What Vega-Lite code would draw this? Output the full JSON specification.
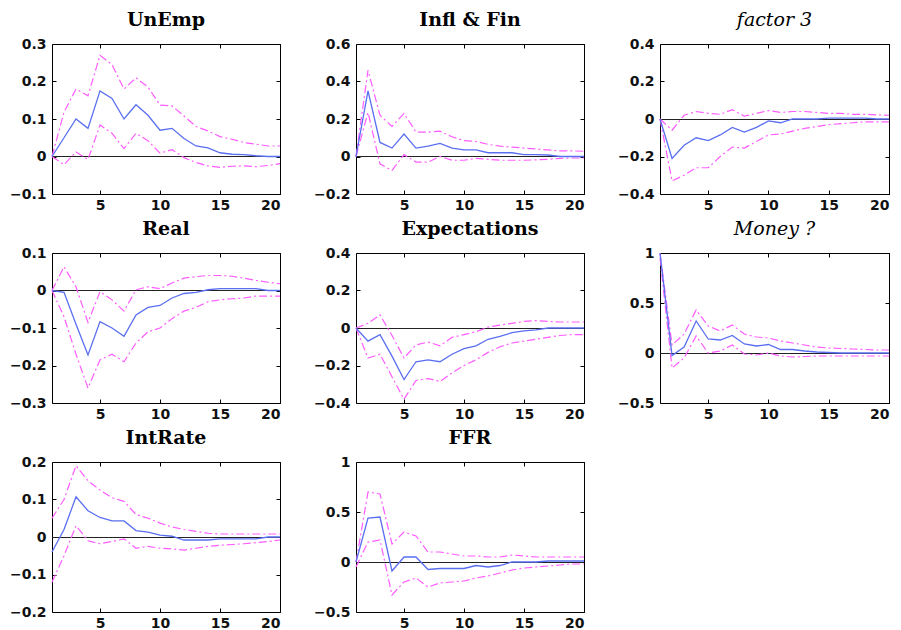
{
  "$schema": "https://vega.github.io/schema/vega-lite/v6.json",
  "padding": {"left": 8, "top": 10, "right": 2, "bottom": 5},
  "background": "white",
  "config": {
    "view": {"stroke": "black", "strokeWidth": 1},
    "axis": {"labelFont": "DejaVu Sans", "labelFontSize": 14, "labelFontWeight": "bold", "labelColor": "#111", "grid": false, "domain": false, "title": null, "tickColor": "black", "format": "~g"},
    "title": {"font": "DejaVu Serif", "fontSize": 19, "fontWeight": "bold", "color": "black", "anchor": "middle", "offset": 7},
    "concat": {"spacing": {"row": 6, "column": 28}}
  },
  "datasets": {
    "irf": [
      {"p":"UnEmp","h":1,"m":0,"lo":0,"hi":0},
      {"p":"UnEmp","h":2,"m":0.05,"lo":-0.022,"hi":0.118},
      {"p":"UnEmp","h":3,"m":0.1,"lo":0.012,"hi":0.18},
      {"p":"UnEmp","h":4,"m":0.075,"lo":-0.008,"hi":0.162},
      {"p":"UnEmp","h":5,"m":0.175,"lo":0.084,"hi":0.27},
      {"p":"UnEmp","h":6,"m":0.155,"lo":0.062,"hi":0.245},
      {"p":"UnEmp","h":7,"m":0.1,"lo":0.021,"hi":0.18},
      {"p":"UnEmp","h":8,"m":0.138,"lo":0.062,"hi":0.21},
      {"p":"UnEmp","h":9,"m":0.11,"lo":0.042,"hi":0.185},
      {"p":"UnEmp","h":10,"m":0.07,"lo":0.009,"hi":0.137},
      {"p":"UnEmp","h":11,"m":0.075,"lo":0.018,"hi":0.135},
      {"p":"UnEmp","h":12,"m":0.048,"lo":-0.003,"hi":0.108},
      {"p":"UnEmp","h":13,"m":0.028,"lo":-0.016,"hi":0.08},
      {"p":"UnEmp","h":14,"m":0.023,"lo":-0.025,"hi":0.068},
      {"p":"UnEmp","h":15,"m":0.01,"lo":-0.029,"hi":0.053},
      {"p":"UnEmp","h":16,"m":0.006,"lo":-0.026,"hi":0.046},
      {"p":"UnEmp","h":17,"m":0.005,"lo":-0.025,"hi":0.037},
      {"p":"UnEmp","h":18,"m":0.002,"lo":-0.027,"hi":0.033},
      {"p":"UnEmp","h":19,"m":0,"lo":-0.024,"hi":0.028},
      {"p":"UnEmp","h":20,"m":0,"lo":-0.019,"hi":0.028},

      {"p":"Infl","h":1,"m":0,"lo":0,"hi":0},
      {"p":"Infl","h":2,"m":0.35,"lo":0.235,"hi":0.46},
      {"p":"Infl","h":3,"m":0.075,"lo":-0.04,"hi":0.22},
      {"p":"Infl","h":4,"m":0.045,"lo":-0.075,"hi":0.16},
      {"p":"Infl","h":5,"m":0.12,"lo":0.01,"hi":0.23},
      {"p":"Infl","h":6,"m":0.045,"lo":-0.03,"hi":0.13},
      {"p":"Infl","h":7,"m":0.055,"lo":-0.03,"hi":0.13},
      {"p":"Infl","h":8,"m":0.07,"lo":0,"hi":0.135},
      {"p":"Infl","h":9,"m":0.045,"lo":-0.02,"hi":0.105},
      {"p":"Infl","h":10,"m":0.035,"lo":-0.02,"hi":0.085},
      {"p":"Infl","h":11,"m":0.035,"lo":-0.01,"hi":0.08},
      {"p":"Infl","h":12,"m":0.02,"lo":-0.015,"hi":0.065},
      {"p":"Infl","h":13,"m":0.02,"lo":-0.02,"hi":0.055},
      {"p":"Infl","h":14,"m":0.02,"lo":-0.02,"hi":0.05},
      {"p":"Infl","h":15,"m":0.01,"lo":-0.02,"hi":0.045},
      {"p":"Infl","h":16,"m":0.01,"lo":-0.018,"hi":0.04},
      {"p":"Infl","h":17,"m":0.008,"lo":-0.015,"hi":0.035},
      {"p":"Infl","h":18,"m":0,"lo":-0.01,"hi":0.03},
      {"p":"Infl","h":19,"m":0,"lo":-0.008,"hi":0.03},
      {"p":"Infl","h":20,"m":0,"lo":-0.008,"hi":0.028},

      {"p":"F3","h":1,"m":0,"lo":0,"hi":0},
      {"p":"F3","h":2,"m":-0.21,"lo":-0.33,"hi":-0.06},
      {"p":"F3","h":3,"m":-0.14,"lo":-0.3,"hi":0.02},
      {"p":"F3","h":4,"m":-0.1,"lo":-0.26,"hi":0.04},
      {"p":"F3","h":5,"m":-0.115,"lo":-0.26,"hi":0.03},
      {"p":"F3","h":6,"m":-0.085,"lo":-0.2,"hi":0.025},
      {"p":"F3","h":7,"m":-0.045,"lo":-0.15,"hi":0.05},
      {"p":"F3","h":8,"m":-0.07,"lo":-0.155,"hi":0.015},
      {"p":"F3","h":9,"m":-0.045,"lo":-0.12,"hi":0.03},
      {"p":"F3","h":10,"m":-0.01,"lo":-0.085,"hi":0.045},
      {"p":"F3","h":11,"m":-0.02,"lo":-0.08,"hi":0.035},
      {"p":"F3","h":12,"m":0,"lo":-0.065,"hi":0.04},
      {"p":"F3","h":13,"m":0,"lo":-0.05,"hi":0.04},
      {"p":"F3","h":14,"m":0,"lo":-0.04,"hi":0.035},
      {"p":"F3","h":15,"m":0.005,"lo":-0.03,"hi":0.03},
      {"p":"F3","h":16,"m":0.005,"lo":-0.025,"hi":0.03},
      {"p":"F3","h":17,"m":0.005,"lo":-0.02,"hi":0.025},
      {"p":"F3","h":18,"m":0.005,"lo":-0.015,"hi":0.025},
      {"p":"F3","h":19,"m":0,"lo":-0.015,"hi":0.022},
      {"p":"F3","h":20,"m":0,"lo":-0.015,"hi":0.02},

      {"p":"Real","h":1,"m":0,"lo":0,"hi":0},
      {"p":"Real","h":2,"m":-0.005,"lo":-0.07,"hi":0.063},
      {"p":"Real","h":3,"m":-0.09,"lo":-0.17,"hi":0.01},
      {"p":"Real","h":4,"m":-0.172,"lo":-0.26,"hi":-0.085},
      {"p":"Real","h":5,"m":-0.083,"lo":-0.185,"hi":-0.003},
      {"p":"Real","h":6,"m":-0.1,"lo":-0.17,"hi":-0.025},
      {"p":"Real","h":7,"m":-0.122,"lo":-0.19,"hi":-0.055},
      {"p":"Real","h":8,"m":-0.065,"lo":-0.14,"hi":0.002},
      {"p":"Real","h":9,"m":-0.045,"lo":-0.11,"hi":0.01},
      {"p":"Real","h":10,"m":-0.04,"lo":-0.1,"hi":0.005},
      {"p":"Real","h":11,"m":-0.02,"lo":-0.075,"hi":0.02},
      {"p":"Real","h":12,"m":-0.008,"lo":-0.055,"hi":0.033},
      {"p":"Real","h":13,"m":-0.005,"lo":-0.045,"hi":0.037},
      {"p":"Real","h":14,"m":0.002,"lo":-0.03,"hi":0.04},
      {"p":"Real","h":15,"m":0.005,"lo":-0.025,"hi":0.04},
      {"p":"Real","h":16,"m":0.005,"lo":-0.022,"hi":0.038},
      {"p":"Real","h":17,"m":0.005,"lo":-0.02,"hi":0.033},
      {"p":"Real","h":18,"m":0.005,"lo":-0.015,"hi":0.027},
      {"p":"Real","h":19,"m":0,"lo":-0.015,"hi":0.022},
      {"p":"Real","h":20,"m":0,"lo":-0.015,"hi":0.018},

      {"p":"Exp","h":1,"m":0,"lo":0,"hi":0},
      {"p":"Exp","h":2,"m":-0.07,"lo":-0.16,"hi":0.025},
      {"p":"Exp","h":3,"m":-0.035,"lo":-0.14,"hi":0.07},
      {"p":"Exp","h":4,"m":-0.15,"lo":-0.26,"hi":-0.04},
      {"p":"Exp","h":5,"m":-0.275,"lo":-0.38,"hi":-0.16},
      {"p":"Exp","h":6,"m":-0.18,"lo":-0.28,"hi":-0.09},
      {"p":"Exp","h":7,"m":-0.17,"lo":-0.27,"hi":-0.075},
      {"p":"Exp","h":8,"m":-0.18,"lo":-0.285,"hi":-0.095},
      {"p":"Exp","h":9,"m":-0.14,"lo":-0.24,"hi":-0.05},
      {"p":"Exp","h":10,"m":-0.11,"lo":-0.2,"hi":-0.035},
      {"p":"Exp","h":11,"m":-0.095,"lo":-0.17,"hi":-0.02},
      {"p":"Exp","h":12,"m":-0.06,"lo":-0.13,"hi":0.005},
      {"p":"Exp","h":13,"m":-0.045,"lo":-0.1,"hi":0.015},
      {"p":"Exp","h":14,"m":-0.025,"lo":-0.08,"hi":0.025},
      {"p":"Exp","h":15,"m":-0.015,"lo":-0.07,"hi":0.035},
      {"p":"Exp","h":16,"m":-0.01,"lo":-0.06,"hi":0.04},
      {"p":"Exp","h":17,"m":0,"lo":-0.05,"hi":0.035},
      {"p":"Exp","h":18,"m":0,"lo":-0.04,"hi":0.032},
      {"p":"Exp","h":19,"m":0,"lo":-0.035,"hi":0.032},
      {"p":"Exp","h":20,"m":0,"lo":-0.035,"hi":0.032},

      {"p":"Money","h":1,"m":1,"lo":0.95,"hi":1},
      {"p":"Money","h":2,"m":-0.025,"lo":-0.15,"hi":0.08},
      {"p":"Money","h":3,"m":0.06,"lo":-0.05,"hi":0.19},
      {"p":"Money","h":4,"m":0.32,"lo":0.17,"hi":0.43},
      {"p":"Money","h":5,"m":0.14,"lo":0,"hi":0.27},
      {"p":"Money","h":6,"m":0.13,"lo":0.02,"hi":0.22},
      {"p":"Money","h":7,"m":0.175,"lo":0.08,"hi":0.28},
      {"p":"Money","h":8,"m":0.09,"lo":-0.01,"hi":0.19},
      {"p":"Money","h":9,"m":0.07,"lo":-0.02,"hi":0.16},
      {"p":"Money","h":10,"m":0.085,"lo":0,"hi":0.15},
      {"p":"Money","h":11,"m":0.035,"lo":-0.03,"hi":0.12},
      {"p":"Money","h":12,"m":0.035,"lo":-0.04,"hi":0.1},
      {"p":"Money","h":13,"m":0.02,"lo":-0.035,"hi":0.08},
      {"p":"Money","h":14,"m":0.01,"lo":-0.03,"hi":0.06},
      {"p":"Money","h":15,"m":0.005,"lo":-0.03,"hi":0.05},
      {"p":"Money","h":16,"m":0,"lo":-0.03,"hi":0.045},
      {"p":"Money","h":17,"m":0,"lo":-0.03,"hi":0.04},
      {"p":"Money","h":18,"m":0,"lo":-0.03,"hi":0.035},
      {"p":"Money","h":19,"m":0,"lo":-0.03,"hi":0.03},
      {"p":"Money","h":20,"m":0,"lo":-0.03,"hi":0.03},

      {"p":"Int","h":1,"m":-0.04,"lo":-0.12,"hi":0.05},
      {"p":"Int","h":2,"m":0.02,"lo":-0.05,"hi":0.1},
      {"p":"Int","h":3,"m":0.107,"lo":0.03,"hi":0.19},
      {"p":"Int","h":4,"m":0.07,"lo":-0.01,"hi":0.15},
      {"p":"Int","h":5,"m":0.052,"lo":-0.018,"hi":0.125},
      {"p":"Int","h":6,"m":0.043,"lo":-0.012,"hi":0.105},
      {"p":"Int","h":7,"m":0.043,"lo":-0.005,"hi":0.095},
      {"p":"Int","h":8,"m":0.017,"lo":-0.03,"hi":0.06},
      {"p":"Int","h":9,"m":0.013,"lo":-0.025,"hi":0.05},
      {"p":"Int","h":10,"m":0.005,"lo":-0.03,"hi":0.037},
      {"p":"Int","h":11,"m":0.002,"lo":-0.032,"hi":0.027},
      {"p":"Int","h":12,"m":-0.008,"lo":-0.035,"hi":0.02},
      {"p":"Int","h":13,"m":-0.008,"lo":-0.03,"hi":0.015},
      {"p":"Int","h":14,"m":-0.008,"lo":-0.025,"hi":0.01},
      {"p":"Int","h":15,"m":-0.005,"lo":-0.022,"hi":0.008},
      {"p":"Int","h":16,"m":-0.005,"lo":-0.02,"hi":0.008},
      {"p":"Int","h":17,"m":-0.005,"lo":-0.018,"hi":0.008},
      {"p":"Int","h":18,"m":-0.005,"lo":-0.015,"hi":0.008},
      {"p":"Int","h":19,"m":0,"lo":-0.012,"hi":0.008},
      {"p":"Int","h":20,"m":0,"lo":-0.008,"hi":0.008},

      {"p":"FFR","h":1,"m":0,"lo":-0.05,"hi":0},
      {"p":"FFR","h":2,"m":0.44,"lo":0.2,"hi":0.7},
      {"p":"FFR","h":3,"m":0.45,"lo":0.22,"hi":0.68},
      {"p":"FFR","h":4,"m":-0.09,"lo":-0.33,"hi":0.18},
      {"p":"FFR","h":5,"m":0.05,"lo":-0.2,"hi":0.3},
      {"p":"FFR","h":6,"m":0.05,"lo":-0.16,"hi":0.26},
      {"p":"FFR","h":7,"m":-0.075,"lo":-0.25,"hi":0.1},
      {"p":"FFR","h":8,"m":-0.065,"lo":-0.21,"hi":0.1},
      {"p":"FFR","h":9,"m":-0.065,"lo":-0.2,"hi":0.08},
      {"p":"FFR","h":10,"m":-0.065,"lo":-0.19,"hi":0.06},
      {"p":"FFR","h":11,"m":-0.035,"lo":-0.16,"hi":0.06},
      {"p":"FFR","h":12,"m":-0.05,"lo":-0.14,"hi":0.05},
      {"p":"FFR","h":13,"m":-0.035,"lo":-0.11,"hi":0.05},
      {"p":"FFR","h":14,"m":0,"lo":-0.08,"hi":0.07},
      {"p":"FFR","h":15,"m":0,"lo":-0.06,"hi":0.06},
      {"p":"FFR","h":16,"m":0,"lo":-0.05,"hi":0.05},
      {"p":"FFR","h":17,"m":0.01,"lo":-0.04,"hi":0.05},
      {"p":"FFR","h":18,"m":0.01,"lo":-0.03,"hi":0.05},
      {"p":"FFR","h":19,"m":0.01,"lo":-0.02,"hi":0.05},
      {"p":"FFR","h":20,"m":0.01,"lo":-0.02,"hi":0.05}
    ]
  },
  "data": {"name": "irf"},
  "columns": 3,
  "concat": [
    {
      "title": {"text": "UnEmp"},
      "width": 228, "height": 150,
      "transform": [{"filter": "datum.p === 'UnEmp'"}],
      "layer": [
        {"mark": {"type": "rule", "color": "#222", "strokeWidth": 0.8}, "encoding": {"y": {"datum": 0, "type": "quantitative", "axis": null}}},
        {"mark": {"type": "line", "color": "#ff5cff", "strokeWidth": 1.2, "strokeDash": [8, 3, 2, 3]},
         "encoding": {"x": {"field": "h", "type": "quantitative", "scale": {"domain": [1, 20], "nice": false, "zero": false}, "axis": {"orient": "bottom", "values": [5, 10, 15, 20], "ticks": false, "labelPadding": 4}},
                      "y": {"field": "hi", "type": "quantitative", "scale": {"domain": [-0.1, 0.3], "nice": false, "zero": false}, "axis": {"orient": "left", "values": [-0.1, 0, 0.1, 0.2, 0.3], "ticks": false, "labelPadding": 6}}}},
        {"mark": {"type": "line", "color": "#ff5cff", "strokeWidth": 1.2, "strokeDash": [8, 3, 2, 3]},
         "encoding": {"x": {"field": "h", "type": "quantitative", "axis": {"orient": "bottom", "values": [5, 10, 15, 20], "labels": false, "tickSize": 4, "offset": -4}},
                      "y": {"field": "lo", "type": "quantitative", "axis": {"orient": "left", "values": [-0.1, 0, 0.1, 0.2, 0.3], "labels": false, "tickSize": 4, "offset": -4}}}},
        {"mark": {"type": "line", "color": "#5a6ff0", "strokeWidth": 1.3},
         "encoding": {"x": {"field": "h", "type": "quantitative", "axis": {"orient": "top", "values": [5, 10, 15, 20], "labels": false, "tickSize": 4, "offset": -4}},
                      "y": {"field": "m", "type": "quantitative", "axis": {"orient": "right", "values": [-0.1, 0, 0.1, 0.2, 0.3], "labels": false, "tickSize": 4, "offset": -4}}}}
      ],
      "resolve": {"axis": {"x": "independent", "y": "independent"}}
    },
    {
      "title": {"text": "Infl & Fin"},
      "width": 228, "height": 150,
      "transform": [{"filter": "datum.p === 'Infl'"}],
      "layer": [
        {"mark": {"type": "rule", "color": "#222", "strokeWidth": 0.8}, "encoding": {"y": {"datum": 0, "type": "quantitative", "axis": null}}},
        {"mark": {"type": "line", "color": "#ff5cff", "strokeWidth": 1.2, "strokeDash": [8, 3, 2, 3]},
         "encoding": {"x": {"field": "h", "type": "quantitative", "scale": {"domain": [1, 20], "nice": false, "zero": false}, "axis": {"orient": "bottom", "values": [5, 10, 15, 20], "ticks": false, "labelPadding": 4}},
                      "y": {"field": "hi", "type": "quantitative", "scale": {"domain": [-0.2, 0.6], "nice": false, "zero": false}, "axis": {"orient": "left", "values": [-0.2, 0, 0.2, 0.4, 0.6], "ticks": false, "labelPadding": 6}}}},
        {"mark": {"type": "line", "color": "#ff5cff", "strokeWidth": 1.2, "strokeDash": [8, 3, 2, 3]},
         "encoding": {"x": {"field": "h", "type": "quantitative", "axis": {"orient": "bottom", "values": [5, 10, 15, 20], "labels": false, "tickSize": 4, "offset": -4}},
                      "y": {"field": "lo", "type": "quantitative", "axis": {"orient": "left", "values": [-0.2, 0, 0.2, 0.4, 0.6], "labels": false, "tickSize": 4, "offset": -4}}}},
        {"mark": {"type": "line", "color": "#5a6ff0", "strokeWidth": 1.3},
         "encoding": {"x": {"field": "h", "type": "quantitative", "axis": {"orient": "top", "values": [5, 10, 15, 20], "labels": false, "tickSize": 4, "offset": -4}},
                      "y": {"field": "m", "type": "quantitative", "axis": {"orient": "right", "values": [-0.2, 0, 0.2, 0.4, 0.6], "labels": false, "tickSize": 4, "offset": -4}}}}
      ],
      "resolve": {"axis": {"x": "independent", "y": "independent"}}
    },
    {
      "title": {"text": "factor 3", "fontStyle": "italic", "fontWeight": "normal"},
      "width": 229, "height": 150,
      "transform": [{"filter": "datum.p === 'F3'"}],
      "layer": [
        {"mark": {"type": "rule", "color": "#222", "strokeWidth": 0.8, "yOffset": 0.5}, "encoding": {"y": {"datum": 0, "type": "quantitative", "axis": null}}},
        {"mark": {"type": "line", "color": "#ff5cff", "strokeWidth": 1.2, "strokeDash": [8, 3, 2, 3]},
         "encoding": {"x": {"field": "h", "type": "quantitative", "scale": {"domain": [1, 20], "nice": false, "zero": false}, "axis": {"orient": "bottom", "values": [5, 10, 15, 20], "ticks": false, "labelPadding": 4}},
                      "y": {"field": "hi", "type": "quantitative", "scale": {"domain": [-0.4, 0.4], "nice": false, "zero": false}, "axis": {"orient": "left", "values": [-0.4, -0.2, 0, 0.2, 0.4], "ticks": false, "labelPadding": 6}}}},
        {"mark": {"type": "line", "color": "#ff5cff", "strokeWidth": 1.2, "strokeDash": [8, 3, 2, 3]},
         "encoding": {"x": {"field": "h", "type": "quantitative", "axis": {"orient": "bottom", "values": [5, 10, 15, 20], "labels": false, "tickSize": 4, "offset": -4}},
                      "y": {"field": "lo", "type": "quantitative", "axis": {"orient": "left", "values": [-0.4, -0.2, 0, 0.2, 0.4], "labels": false, "tickSize": 4, "offset": -4}}}},
        {"mark": {"type": "line", "color": "#5a6ff0", "strokeWidth": 1.3},
         "encoding": {"x": {"field": "h", "type": "quantitative", "axis": {"orient": "top", "values": [5, 10, 15, 20], "labels": false, "tickSize": 4, "offset": -4}},
                      "y": {"field": "m", "type": "quantitative", "axis": {"orient": "right", "values": [-0.4, -0.2, 0, 0.2, 0.4], "labels": false, "tickSize": 4, "offset": -4}}}}
      ],
      "resolve": {"axis": {"x": "independent", "y": "independent"}}
    },
    {
      "title": {"text": "Real"},
      "width": 228, "height": 150,
      "transform": [{"filter": "datum.p === 'Real'"}],
      "layer": [
        {"mark": {"type": "rule", "color": "#222", "strokeWidth": 0.8}, "encoding": {"y": {"datum": 0, "type": "quantitative", "axis": null}}},
        {"mark": {"type": "line", "color": "#ff5cff", "strokeWidth": 1.2, "strokeDash": [8, 3, 2, 3]},
         "encoding": {"x": {"field": "h", "type": "quantitative", "scale": {"domain": [1, 20], "nice": false, "zero": false}, "axis": {"orient": "bottom", "values": [5, 10, 15, 20], "ticks": false, "labelPadding": 4}},
                      "y": {"field": "hi", "type": "quantitative", "scale": {"domain": [-0.3, 0.1], "nice": false, "zero": false}, "axis": {"orient": "left", "values": [-0.3, -0.2, -0.1, 0, 0.1], "ticks": false, "labelPadding": 6}}}},
        {"mark": {"type": "line", "color": "#ff5cff", "strokeWidth": 1.2, "strokeDash": [8, 3, 2, 3]},
         "encoding": {"x": {"field": "h", "type": "quantitative", "axis": {"orient": "bottom", "values": [5, 10, 15, 20], "labels": false, "tickSize": 4, "offset": -4}},
                      "y": {"field": "lo", "type": "quantitative", "axis": {"orient": "left", "values": [-0.3, -0.2, -0.1, 0, 0.1], "labels": false, "tickSize": 4, "offset": -4}}}},
        {"mark": {"type": "line", "color": "#5a6ff0", "strokeWidth": 1.3},
         "encoding": {"x": {"field": "h", "type": "quantitative", "axis": {"orient": "top", "values": [5, 10, 15, 20], "labels": false, "tickSize": 4, "offset": -4}},
                      "y": {"field": "m", "type": "quantitative", "axis": {"orient": "right", "values": [-0.3, -0.2, -0.1, 0, 0.1], "labels": false, "tickSize": 4, "offset": -4}}}}
      ],
      "resolve": {"axis": {"x": "independent", "y": "independent"}}
    },
    {
      "title": {"text": "Expectations"},
      "width": 228, "height": 150,
      "transform": [{"filter": "datum.p === 'Exp'"}],
      "layer": [
        {"mark": {"type": "rule", "color": "#222", "strokeWidth": 0.8, "yOffset": 0.5}, "encoding": {"y": {"datum": 0, "type": "quantitative", "axis": null}}},
        {"mark": {"type": "line", "color": "#ff5cff", "strokeWidth": 1.2, "strokeDash": [8, 3, 2, 3]},
         "encoding": {"x": {"field": "h", "type": "quantitative", "scale": {"domain": [1, 20], "nice": false, "zero": false}, "axis": {"orient": "bottom", "values": [5, 10, 15, 20], "ticks": false, "labelPadding": 4}},
                      "y": {"field": "hi", "type": "quantitative", "scale": {"domain": [-0.4, 0.4], "nice": false, "zero": false}, "axis": {"orient": "left", "values": [-0.4, -0.2, 0, 0.2, 0.4], "ticks": false, "labelPadding": 6}}}},
        {"mark": {"type": "line", "color": "#ff5cff", "strokeWidth": 1.2, "strokeDash": [8, 3, 2, 3]},
         "encoding": {"x": {"field": "h", "type": "quantitative", "axis": {"orient": "bottom", "values": [5, 10, 15, 20], "labels": false, "tickSize": 4, "offset": -4}},
                      "y": {"field": "lo", "type": "quantitative", "axis": {"orient": "left", "values": [-0.4, -0.2, 0, 0.2, 0.4], "labels": false, "tickSize": 4, "offset": -4}}}},
        {"mark": {"type": "line", "color": "#5a6ff0", "strokeWidth": 1.3},
         "encoding": {"x": {"field": "h", "type": "quantitative", "axis": {"orient": "top", "values": [5, 10, 15, 20], "labels": false, "tickSize": 4, "offset": -4}},
                      "y": {"field": "m", "type": "quantitative", "axis": {"orient": "right", "values": [-0.4, -0.2, 0, 0.2, 0.4], "labels": false, "tickSize": 4, "offset": -4}}}}
      ],
      "resolve": {"axis": {"x": "independent", "y": "independent"}}
    },
    {
      "title": {"text": "Money ?", "fontStyle": "italic", "fontWeight": "normal"},
      "width": 229, "height": 150,
      "transform": [{"filter": "datum.p === 'Money'"}],
      "layer": [
        {"mark": {"type": "rule", "color": "#222", "strokeWidth": 0.8, "yOffset": 0.5}, "encoding": {"y": {"datum": 0, "type": "quantitative", "axis": null}}},
        {"mark": {"type": "line", "color": "#ff5cff", "strokeWidth": 1.2, "strokeDash": [8, 3, 2, 3]},
         "encoding": {"x": {"field": "h", "type": "quantitative", "scale": {"domain": [1, 20], "nice": false, "zero": false}, "axis": {"orient": "bottom", "values": [5, 10, 15, 20], "ticks": false, "labelPadding": 4}},
                      "y": {"field": "hi", "type": "quantitative", "scale": {"domain": [-0.5, 1], "nice": false, "zero": false}, "axis": {"orient": "left", "values": [-0.5, 0, 0.5, 1], "ticks": false, "labelPadding": 6}}}},
        {"mark": {"type": "line", "color": "#ff5cff", "strokeWidth": 1.2, "strokeDash": [8, 3, 2, 3]},
         "encoding": {"x": {"field": "h", "type": "quantitative", "axis": {"orient": "bottom", "values": [5, 10, 15, 20], "labels": false, "tickSize": 4, "offset": -4}},
                      "y": {"field": "lo", "type": "quantitative", "axis": {"orient": "left", "values": [-0.5, 0, 0.5, 1], "labels": false, "tickSize": 4, "offset": -4}}}},
        {"mark": {"type": "line", "color": "#5a6ff0", "strokeWidth": 1.3},
         "encoding": {"x": {"field": "h", "type": "quantitative", "axis": {"orient": "top", "values": [5, 10, 15, 20], "labels": false, "tickSize": 4, "offset": -4}},
                      "y": {"field": "m", "type": "quantitative", "axis": {"orient": "right", "values": [-0.5, 0, 0.5, 1], "labels": false, "tickSize": 4, "offset": -4}}}}
      ],
      "resolve": {"axis": {"x": "independent", "y": "independent"}}
    },
    {
      "title": {"text": "IntRate"},
      "width": 228, "height": 150,
      "transform": [{"filter": "datum.p === 'Int'"}],
      "layer": [
        {"mark": {"type": "rule", "color": "#222", "strokeWidth": 0.8, "yOffset": 0.5}, "encoding": {"y": {"datum": 0, "type": "quantitative", "axis": null}}},
        {"mark": {"type": "line", "color": "#ff5cff", "strokeWidth": 1.2, "strokeDash": [8, 3, 2, 3]},
         "encoding": {"x": {"field": "h", "type": "quantitative", "scale": {"domain": [1, 20], "nice": false, "zero": false}, "axis": {"orient": "bottom", "values": [5, 10, 15, 20], "ticks": false, "labelPadding": 4}},
                      "y": {"field": "hi", "type": "quantitative", "scale": {"domain": [-0.2, 0.2], "nice": false, "zero": false}, "axis": {"orient": "left", "values": [-0.2, -0.1, 0, 0.1, 0.2], "ticks": false, "labelPadding": 6}}}},
        {"mark": {"type": "line", "color": "#ff5cff", "strokeWidth": 1.2, "strokeDash": [8, 3, 2, 3]},
         "encoding": {"x": {"field": "h", "type": "quantitative", "axis": {"orient": "bottom", "values": [5, 10, 15, 20], "labels": false, "tickSize": 4, "offset": -4}},
                      "y": {"field": "lo", "type": "quantitative", "axis": {"orient": "left", "values": [-0.2, -0.1, 0, 0.1, 0.2], "labels": false, "tickSize": 4, "offset": -4}}}},
        {"mark": {"type": "line", "color": "#5a6ff0", "strokeWidth": 1.3},
         "encoding": {"x": {"field": "h", "type": "quantitative", "axis": {"orient": "top", "values": [5, 10, 15, 20], "labels": false, "tickSize": 4, "offset": -4}},
                      "y": {"field": "m", "type": "quantitative", "axis": {"orient": "right", "values": [-0.2, -0.1, 0, 0.1, 0.2], "labels": false, "tickSize": 4, "offset": -4}}}}
      ],
      "resolve": {"axis": {"x": "independent", "y": "independent"}}
    },
    {
      "title": {"text": "FFR"},
      "width": 228, "height": 150,
      "transform": [{"filter": "datum.p === 'FFR'"}],
      "layer": [
        {"mark": {"type": "rule", "color": "#222", "strokeWidth": 0.8, "yOffset": 0.5}, "encoding": {"y": {"datum": 0, "type": "quantitative", "axis": null}}},
        {"mark": {"type": "line", "color": "#ff5cff", "strokeWidth": 1.2, "strokeDash": [8, 3, 2, 3]},
         "encoding": {"x": {"field": "h", "type": "quantitative", "scale": {"domain": [1, 20], "nice": false, "zero": false}, "axis": {"orient": "bottom", "values": [5, 10, 15, 20], "ticks": false, "labelPadding": 4}},
                      "y": {"field": "hi", "type": "quantitative", "scale": {"domain": [-0.5, 1], "nice": false, "zero": false}, "axis": {"orient": "left", "values": [-0.5, 0, 0.5, 1], "ticks": false, "labelPadding": 6}}}},
        {"mark": {"type": "line", "color": "#ff5cff", "strokeWidth": 1.2, "strokeDash": [8, 3, 2, 3]},
         "encoding": {"x": {"field": "h", "type": "quantitative", "axis": {"orient": "bottom", "values": [5, 10, 15, 20], "labels": false, "tickSize": 4, "offset": -4}},
                      "y": {"field": "lo", "type": "quantitative", "axis": {"orient": "left", "values": [-0.5, 0, 0.5, 1], "labels": false, "tickSize": 4, "offset": -4}}}},
        {"mark": {"type": "line", "color": "#5a6ff0", "strokeWidth": 1.3},
         "encoding": {"x": {"field": "h", "type": "quantitative", "axis": {"orient": "top", "values": [5, 10, 15, 20], "labels": false, "tickSize": 4, "offset": -4}},
                      "y": {"field": "m", "type": "quantitative", "axis": {"orient": "right", "values": [-0.5, 0, 0.5, 1], "labels": false, "tickSize": 4, "offset": -4}}}}
      ],
      "resolve": {"axis": {"x": "independent", "y": "independent"}}
    }
  ]
}
